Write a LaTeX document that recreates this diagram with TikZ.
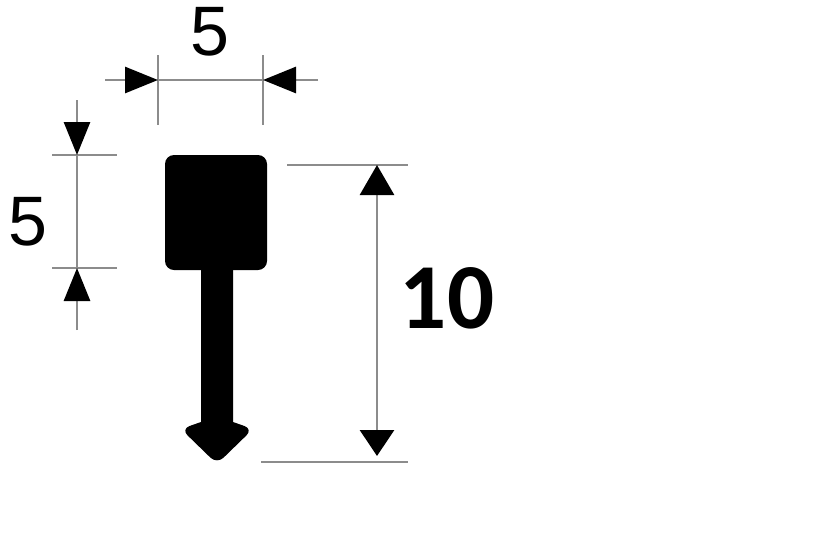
\documentclass[tikz,border=0pt]{standalone}
\usepackage{fontspec}
\setmainfont{Liberation Sans}
\newfontfamily\boldnum{Carlito}
\usetikzlibrary{arrows.meta}
\begin{document}
\begin{tikzpicture}[x=1pt,y=-1pt,
  dimline/.style={draw=black!45,line width=2.8pt},
  dimtip/.style={dimline,-{Triangle[length=33pt,width=26pt,color=black]}},
  lbl/.style={inner sep=0pt,anchor=base,font=\fontsize{70}{70}\selectfont}]
\useasboundingbox[fill=white] (0,0) rectangle (821,547);
% top dimension
\coordinate (tL) at (158,80); \coordinate (tR) at (263,80);
\coordinate (tLo) at (105,80); \coordinate (tRo) at (318,80);
\draw[dimline] (158,55) -- (158,125);
\draw[dimline] (263,55) -- (263,125);
\draw[dimline] (tL) -- (tR);
\draw[dimtip] (tLo) -- (tL);
\draw[dimtip] (tRo) -- (tR);
\node[lbl] (top5) at (210,55) {5};
% left dimension
\coordinate (lT) at (77,155); \coordinate (lB) at (77,268);
\coordinate (lTo) at (77,100); \coordinate (lBo) at (77,330);
\draw[dimline] (52,155) -- (117,155);
\draw[dimline] (52,268) -- (117,268);
\draw[dimline] (lT) -- (lB);
\draw[dimtip] (lTo) -- (lT);
\draw[dimtip] (lBo) -- (lB);
\node[lbl] (left5) at (28,245) {5};
% right dimension
\coordinate (rT) at (377,165); \coordinate (rB) at (377,456);
\draw[dimline] (287,165) -- (408,165);
\draw[dimline] (261,462) -- (408,462);
\draw[dimline,{Triangle[length=30pt,width=34pt,color=black]}-{Triangle[length=26pt,width=34pt,color=black]}] (rT) -- (rB);
\node[inner sep=0pt,anchor=base,font=\boldnum\bfseries\fontsize{93}{93}\selectfont] (ten) at (447,328) {10};
% profile
\fill[rounded corners=9pt] (165,155) rectangle (267,270);
\fill (201,262) -- (201,422)
  [rounded corners=9pt] -- (181,429) -- (217,464) -- (253,429) [sharp corners] -- (233,422) -- (233,262) -- cycle;
\end{tikzpicture}
\end{document}
